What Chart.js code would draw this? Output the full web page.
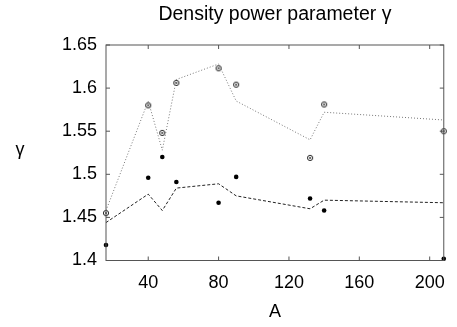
<!DOCTYPE html>
<html><head><meta charset="utf-8">
<script src="https://cdn.jsdelivr.net/npm/chart.js@4"></script>
<style>html,body{margin:0;padding:0;background:#fff}#wrap{width:457px;height:327px}</style>
</head><body><div id="wrap"><canvas id="c" width="457" height="327"></canvas></div>
<script>
const massNumbers = [16, 40, 48, 56, 80, 90, 132, 140, 208];
const openCircles = [1.455, 1.580, 1.548, 1.606, 1.623, 1.604, 1.519, 1.581, 1.550];
const filledDots  = [1.418, 1.496, 1.520, 1.491, 1.467, 1.497, 1.472, 1.458, 1.402];
const upperLine   = [1.458, 1.585, 1.528, 1.610, 1.628, 1.585, 1.540, 1.572, 1.563];
const lowerLine   = [1.444, 1.477, 1.458, 1.484, 1.489, 1.475, 1.460, 1.470, 1.467];
const xTicks = [40, 80, 120, 160, 200];
const yTicks = [1.4, 1.45, 1.5, 1.55, 1.6, 1.65];
const titleText = 'Density power parameter γ';
const xLabel = 'A';
const yLabel = 'γ';

const FONT = "'Liberation Sans', Arial, Helvetica, sans-serif";
const pts = arr => massNumbers.map((a, i) => ({x: a, y: arr[i]}));

// open circle with central dot marker
const circ = document.createElement('canvas');
circ.width = 8; circ.height = 8;
(function(){
  const g = circ.getContext('2d');
  g.strokeStyle = '#222'; g.lineWidth = 1;
  g.beginPath(); g.arc(4, 4, 2.6, 0, Math.PI*2); g.stroke();
  g.fillStyle = '#222';
  g.beginPath(); g.arc(4, 4, 0.9, 0, Math.PI*2); g.fill();
})();

const framePlugin = {
  id: 'frame',
  afterDraw(chart) {
    const {ctx, chartArea: ca, scales} = chart;
    ctx.save();
    ctx.strokeStyle = '#555'; ctx.lineWidth = 1;
    ctx.strokeRect(ca.left, ca.top, ca.right - ca.left, ca.bottom - ca.top);
    ctx.beginPath();
    const L = 4;
    scales.x.ticks.forEach(t => {
      const px = scales.x.getPixelForValue(t.value);
      ctx.moveTo(px, ca.bottom); ctx.lineTo(px, ca.bottom - L);
      ctx.moveTo(px, ca.top); ctx.lineTo(px, ca.top + L);
    });
    scales.y.ticks.forEach(t => {
      const py = scales.y.getPixelForValue(t.value);
      ctx.moveTo(ca.left, py); ctx.lineTo(ca.left + L, py);
      ctx.moveTo(ca.right, py); ctx.lineTo(ca.right - L, py);
    });
    ctx.stroke();
    ctx.fillStyle = '#000';
    ctx.textAlign = 'center'; ctx.textBaseline = 'middle';
    ctx.font = '18px ' + FONT;
    ctx.fillText(yLabel, 20, (ca.top + ca.bottom) / 2 - 3);
    ctx.font = '19.5px ' + FONT;
    ctx.fillText(titleText, (ca.left + ca.right) / 2, 15);
    ctx.restore();
  }
};

new Chart(document.getElementById('c'), {
  type: 'scatter',
  data: {
    datasets: [
      {data: pts(upperLine), showLine: true, borderColor: '#777', borderWidth: 1, borderDash: [1, 2], pointRadius: 0, fill: false, clip: false},
      {data: pts(lowerLine), showLine: true, borderColor: '#222', borderWidth: 1, borderDash: [3, 2], pointRadius: 0, fill: false, clip: false},
      {data: pts(openCircles), showLine: false, pointStyle: circ, pointRadius: 3, clip: false},
      {data: pts(filledDots), showLine: false, pointStyle: 'circle', pointRadius: 2.3, backgroundColor: '#000', borderColor: '#000', borderWidth: 0, clip: false}
    ]
  },
  options: {
    responsive: false, animation: false,
    layout: {padding: {left: 0, right: 7, top: 45, bottom: 0}},
    plugins: {
      legend: {display: false}, tooltip: {enabled: false}, title: {display: false}
    },
    scales: {
      x: {
        type: 'linear', min: 16, max: 208,
        afterBuildTicks: s => { s.ticks = xTicks.map(v => ({value: v})); },
        afterFit: s => { s.height = 66.5; },
        grid: {display: false, drawTicks: false}, border: {display: false},
        ticks: {color: '#000', font: {family: FONT, size: 18}, padding: 12, maxRotation: 0},
        title: {display: true, text: xLabel, color: '#000', font: {family: FONT, size: 18}, padding: {top: 0, bottom: 4}}
      },
      y: {
        type: 'linear', min: 1.4, max: 1.65,
        afterBuildTicks: s => { s.ticks = yTicks.map(v => ({value: v})); },
        afterFit: s => { s.width = 106; },
        grid: {display: false, drawTicks: false}, border: {display: false},
        ticks: {color: '#000', font: {family: FONT, size: 18}, padding: 9, callback: v => String(+v.toFixed(2))}
      }
    }
  },
  plugins: [framePlugin]
});
</script></body></html>
